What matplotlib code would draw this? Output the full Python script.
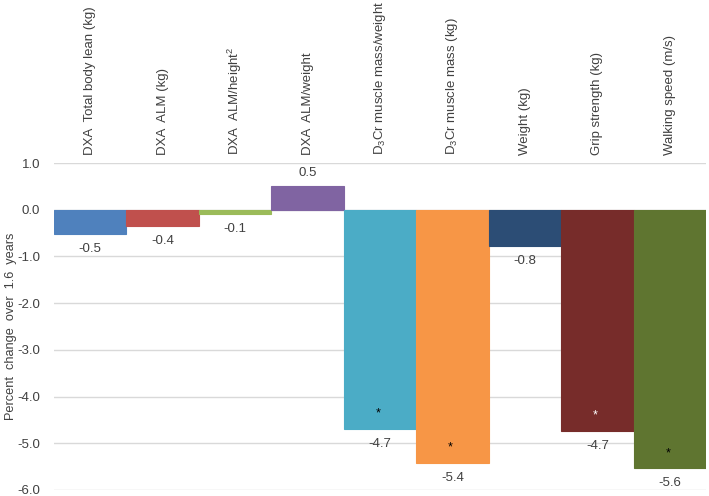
#!/usr/bin/env python3
import matplotlib
matplotlib.use('Agg')
import matplotlib.pyplot as plt

plt.rcParams['font.family'] = ['Liberation Sans', 'DejaVu Sans']
plt.rcParams['mathtext.fontset'] = 'custom'
plt.rcParams['mathtext.rm'] = 'Liberation Sans'
plt.rcParams['mathtext.it'] = 'Liberation Sans'

# Data
categories = [
    'DXA  Total body lean (kg)',
    'DXA  ALM (kg)',
    'DXA  ALM/height$^2$',
    'DXA  ALM/weight',
    'D$_3$Cr muscle mass/weight',
    'D$_3$Cr muscle mass (kg)',
    'Weight (kg)',
    'Grip strength (kg)',
    'Walking speed (m/s)',
]
values = [-0.53, -0.34, -0.10, 0.51, -4.69, -5.42, -0.77, -4.73, -5.53]
value_labels = ['-0.5', '-0.4', '-0.1', '0.5', '-4.7', '-5.4', '-0.8', '-4.7', '-5.6']
significant = [False, False, False, False, True, True, False, True, True]
star_colors = ['k', 'k', 'k', 'k', 'k', 'k', 'k', 'white', 'k']
colors = ['#4F81BD', '#C0504D', '#9BBB59', '#8064A2', '#4BACC6',
          '#F79646', '#2C4D75', '#772C2A', '#5F7530']
y_ticks = [1.0, 0.0, -1.0, -2.0, -3.0, -4.0, -5.0, -6.0]

text_color = '#404040'

fig = plt.figure(figsize=(7.09, 4.96), dpi=100)
ax = fig.add_axes([54 / 709, 6 / 496, 652 / 709, 327 / 496])

x = list(range(len(categories)))
ax.bar(x, values, width=1.0, color=colors, edgecolor=colors, linewidth=0.8, zorder=2)

ax.set_xlim(-0.5, len(categories) - 0.5)
ax.set_ylim(-6.0, 1.0)
ax.set_yticks(y_ticks)
ax.set_yticklabels([f'{t:.1f}' for t in y_ticks])
ax.tick_params(axis='y', length=0, pad=10, labelsize=9.5, labelcolor=text_color)
ax.set_xticks([])
ax.grid(axis='y', color='#D9D9D9', linewidth=1.0, zorder=0)
ax.set_axisbelow(True)
for s in ax.spines.values():
    s.set_visible(False)

ax.set_ylabel('Percent  change  over  1.6  years', fontsize=9.2, color=text_color)
ax.yaxis.set_label_coords(-37 / 652, 0.5)

# value labels
for xi, v, lab in zip(x, values, value_labels):
    off = 13 if v > 0 else -15
    ax.annotate(lab, (xi, v), xytext=(0, off), textcoords='offset pixels',
                ha='center', va='center', fontsize=9.5, color=text_color, zorder=3)

# significance stars
for xi, v, sig, sc in zip(x, values, significant, star_colors):
    if sig:
        ax.annotate('*', (xi, v), xytext=(-2, 15), textcoords='offset pixels',
                    ha='center', va='center', fontsize=9, color=sc, zorder=3)

# category labels above the plot area
for xi, cat in zip(x, categories):
    ax.annotate(cat, (xi, 1.0), xytext=(0, 8), textcoords='offset pixels',
                rotation=90, ha='center', va='bottom', fontsize=9.5, color=text_color)

fig.savefig('out.png', dpi=100)
plt.close(fig)
